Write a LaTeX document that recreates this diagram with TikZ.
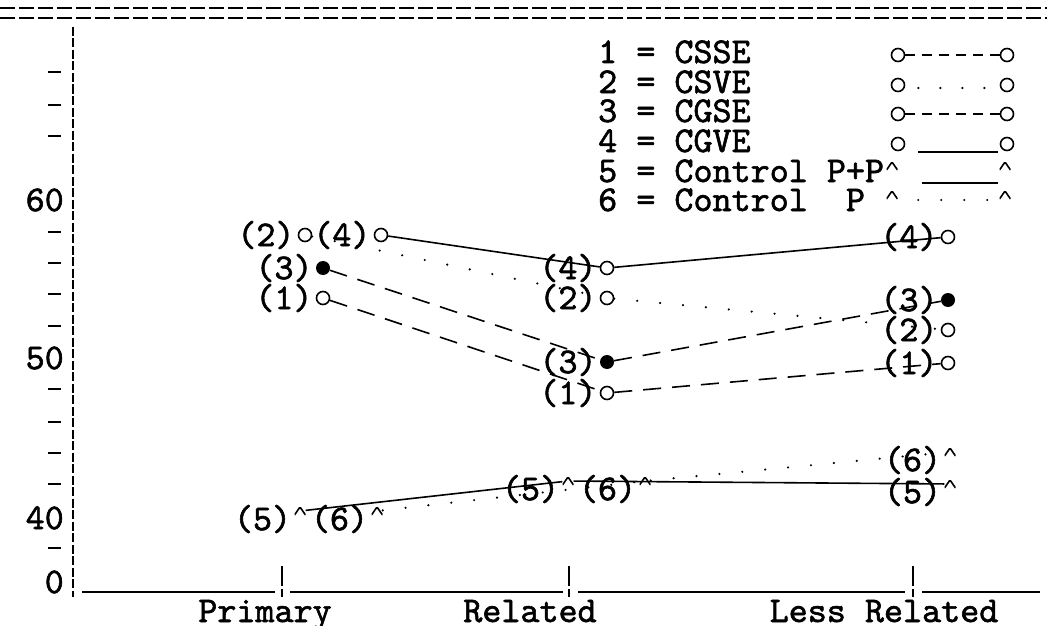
\documentclass[tikz,border=0pt]{standalone}
\usepackage{fontspec}
\setmonofont{lmmono10-regular.otf}[FakeBold=1.6]
\usetikzlibrary{positioning}
\begin{document}
\begin{tikzpicture}[x=1pt,y=-1pt,
	font=\fontsize{36.3}{40}\selectfont\ttfamily,
	every node/.style={inner sep=0pt},
	ring/.style={circle,draw,line width=1.6pt,minimum size=13pt},
	blob/.style={circle,fill,minimum size=14pt},
	caret/.style={minimum width=11pt,minimum height=8pt,path picture={\draw[line width=1.6pt] (path picture bounding box.south west) -- (path picture bounding box.north) -- (path picture bounding box.south east);}},
	lbl/.style={left=3pt of #1},
	clbl/.style={left=3pt of #1,yshift=-8pt},
	solidline/.style={line width=1.6pt},
	dashline/.style={line width=1.6pt,dash pattern=on 18pt off 11pt},
	dotline/.style={line width=2.4pt,line cap=round,dash pattern=on 0pt off 23pt}]
	\useasboundingbox (0,0) rectangle (1047,626);

	\draw[line width=1.2pt,dash pattern=on 15pt off 4pt] (0,8) -- (1047,8) (0,18) -- (1047,18);

	\draw[line width=1.4pt,dash pattern=on 9pt off 2.5pt] (73,27) -- (73,597);
	\foreach \y in {72,105,136,232,263,294,326,389,422,453,484,548}
		\draw[line width=2.4pt] (48,\y) -- (61,\y);
	\node[anchor=east] (t60) at (64,200) {60};
	\node[anchor=east] (t50) at (64,358) {50};
	\node[anchor=east] (t40) at (64,518) {40};
	\node[anchor=east] (t0) at (64,582) {0};

	\draw[line width=1.4pt] (82,592) -- (275,592) (290,592) -- (563,592) (578,592) -- (905,592) (922,592) -- (1040,592);
	\foreach \x in {282,569,913}
		\draw[line width=1.4pt,dash pattern=on 20pt off 3pt] (\x,566) -- (\x,597);
	\node[anchor=base] (primary) at (265,622) {Primary};
	\node[anchor=base] (related) at (530,622) {Related};
	\node[anchor=base] (lessrel) at (884,622) {Less Related};

	\node[anchor=base west] (leg1) at (598,63) {1 = CSSE};
	\node[anchor=base west] (leg2) at (598,93) {2 = CSVE};
	\node[anchor=base west] (leg3) at (598,122) {3 = CGSE};
	\node[anchor=base west] (leg4) at (598,152) {4 = CGVE};
	\node[anchor=base west] (leg5) at (598,182) {5 = Control P+P};
	\node[anchor=base west] (leg6) at (598,211) {6 = Control\ \ P};
	\node[ring] (s1a) at (898,55) {};
	\node[ring] (s1b) at (1007,55) {};
	\node[ring] (s2a) at (898,85) {};
	\node[ring] (s2b) at (1007,85) {};
	\node[ring] (s3a) at (898,114) {};
	\node[ring] (s3b) at (1007,114) {};
	\node[ring] (s4a) at (898,144) {};
	\node[ring] (s4b) at (1007,144) {};
	\node[caret] (s5a) at (892,166) {};
	\node[caret] (s5b) at (1005,166) {};
	\node[caret] (s6a) at (892,195) {};
	\node[caret] (s6b) at (1005,195) {};
	\draw[line width=1.6pt,dash pattern=on 10pt off 7pt] (s1a) -- (s1b);
	\draw[dotline,dash pattern=on 0pt off 22pt,dash phase=9pt] ([yshift=-3pt]s2a.east) -- ([yshift=-3pt]s2b.west);
	\draw[line width=1.6pt,dash pattern=on 10pt off 7pt] (s3a) -- (s3b);
	\draw[solidline] ([xshift=20pt,yshift=-8pt]s4a.center) -- ([xshift=-9pt,yshift=-8pt]s4b.center);
	\draw[solidline] ([xshift=30pt,yshift=-17pt]s5a.center) -- ([xshift=-7pt,yshift=-17pt]s5b.center);
	\draw[dotline,dash phase=2.5pt] ([yshift=-5pt]s6a.east) -- ([yshift=-5pt]s6b.west);

	\node[ring] (p2) at (305,235) {};
	\node[ring] (p4) at (381,235) {};
	\node[blob] (p3) at (323,268) {};
	\node[ring] (p1) at (323,298) {};
	\node[caret] (p5) at (300,511) {};
	\node[caret] (p6) at (377,511) {};
	\node[ring] (r4) at (607,268) {};
	\node[ring] (r2) at (607,298) {};
	\node[blob] (r3) at (607,362) {};
	\node[ring] (r1) at (607,393) {};
	\node[caret] (r5) at (568,481) {};
	\node[caret] (r6) at (645,481) {};
	\node[ring] (l4) at (948,237) {};
	\node[blob] (l3) at (948,300) {};
	\node[ring] (l2) at (948,330) {};
	\node[ring] (l1) at (948,363) {};
	\node[caret] (l6) at (950,452) {};
	\node[caret] (l5) at (950,484) {};

	\node[lbl=p2] (p2t) {(2)};
	\node[lbl=p4] (p4t) {(4)};
	\node[lbl=p3] (p3t) {(3)};
	\node[lbl=p1] (p1t) {(1)};
	\node[clbl=p5] (p5t) {(5)};
	\node[clbl=p6] (p6t) {(6)};
	\node[lbl=r4] (r4t) {(4)};
	\node[lbl=r2] (r2t) {(2)};
	\node[lbl=r3] (r3t) {(3)};
	\node[lbl=r1] (r1t) {(1)};
	\node[clbl=r5] (r5t) {(5)};
	\node[clbl=r6] (r6t) {(6)};
	\node[lbl=l4] (l4t) {(4)};
	\node[lbl=l3] (l3t) {(3)};
	\node[lbl=l2] (l2t) {(2)};
	\node[lbl=l1] (l1t) {(1)};
	\node[clbl=l6] (l6t) {(6)};
	\node[clbl=l5] (l5t) {(5)};

	\draw[solidline] (p4) -- (r4) -- (l4);
	\draw[dotline] (p2) -- (r2) -- (l2);
	\draw[dashline] (p3) -- (r3) -- (l3);
	\draw[dashline] (p1) -- (r1) -- (l1);
	\draw[solidline] (p5) -- (r5) -- (l5);
	\draw[dotline] (p6) -- (r6) -- (l6);
\end{tikzpicture}
\end{document}
